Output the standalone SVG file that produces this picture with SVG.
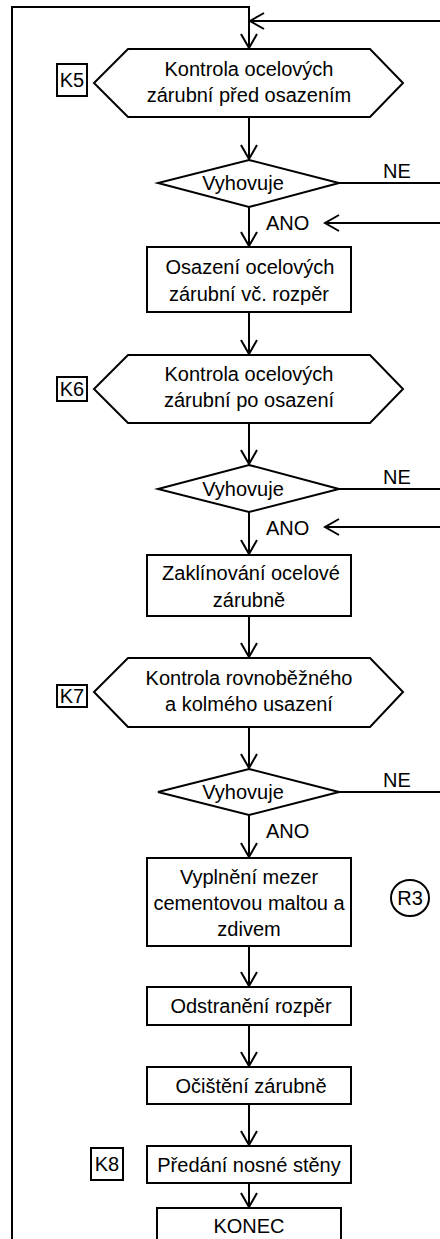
<svg xmlns="http://www.w3.org/2000/svg" width="440" height="1239" viewBox="0 0 440 1239">
<defs>
<style>
.s{fill:#fff;stroke:#000;stroke-width:2}
.c{fill:none;stroke:#000;stroke-width:2}
.t{font-family:"Liberation Sans",Arial,sans-serif;font-size:20px;fill:#000;text-anchor:middle}
.l{font-family:"Liberation Sans",Arial,sans-serif;font-size:20px;fill:#000}
</style>
<marker id="a" markerUnits="userSpaceOnUse" markerWidth="20" markerHeight="20" viewBox="-15 -10 17 20" refX="0" refY="0" orient="auto" overflow="visible">
<path d="M-14,-8 L0,0 L-14,8" fill="none" stroke="#000" stroke-width="2"/>
</marker>
</defs>
<rect width="440" height="1239" fill="#fff"/>
<g id="connectors">
<path class="c" d="M12,1245 L12,7 L249,7 L249,48" marker-end="url(#a)"/>
<path class="c" d="M440,21 L250,21" marker-end="url(#a)"/>
<path class="c" d="M249,117 L249,159" marker-end="url(#a)"/>
<path class="c" d="M339,183 L440,183"/>
<path class="c" d="M440,223 L325,223" marker-end="url(#a)"/>
<path class="c" d="M249,207 L249,246" marker-end="url(#a)"/>
<path class="c" d="M249,312 L249,354" marker-end="url(#a)"/>
<path class="c" d="M249,423 L249,464" marker-end="url(#a)"/>
<path class="c" d="M339,489 L440,489"/>
<path class="c" d="M440,527 L325,527" marker-end="url(#a)"/>
<path class="c" d="M249,512 L249,554" marker-end="url(#a)"/>
<path class="c" d="M249,616 L249,657" marker-end="url(#a)"/>
<path class="c" d="M249,727 L249,768" marker-end="url(#a)"/>
<path class="c" d="M339,792 L440,792"/>
<path class="c" d="M249,815 L249,857" marker-end="url(#a)"/>
<path class="c" d="M249,946 L249,986" marker-end="url(#a)"/>
<path class="c" d="M249,1025 L249,1066" marker-end="url(#a)"/>
<path class="c" d="M249,1104 L249,1145" marker-end="url(#a)"/>
<path class="c" d="M249,1183 L249,1207" marker-end="url(#a)"/>
<text class="l" x="383" y="178">NE</text>
<text class="l" x="266" y="230">ANO</text>
<text class="l" x="383" y="484">NE</text>
<text class="l" x="266" y="535">ANO</text>
<text class="l" x="383" y="787">NE</text>
<text class="l" x="266" y="838">ANO</text>
</g>
<g id="k5">
<rect class="s" x="57" y="64" width="30" height="32"/>
<text class="t" x="72" y="87">K5</text>
</g>
<g id="hex1">
<polygon class="s" points="128,49 370,49 403,83 370,117 128,117 94,83"/>
<text class="t" x="249" y="76">Kontrola ocelových</text>
<text class="t" x="249" y="102">zárubní před osazením</text>
</g>
<g id="dec1">
<polygon class="s" points="249,160 339,183 249,207 158,183"/>
<text class="t" x="243" y="190">Vyhovuje</text>
</g>
<g id="box1">
<rect class="s" x="147" y="247" width="204" height="65"/>
<text class="t" x="250" y="274">Osazení ocelových</text>
<text class="t" x="249" y="301">zárubní vč. rozpěr</text>
</g>
<g id="k6">
<rect class="s" x="57" y="377" width="30" height="24"/>
<text class="t" x="72" y="396">K6</text>
</g>
<g id="hex2">
<polygon class="s" points="128,355 370,355 403,389 370,423 128,423 94,389"/>
<text class="t" x="249" y="381">Kontrola ocelových</text>
<text class="t" x="249" y="407">zárubní po osazení</text>
</g>
<g id="dec2">
<polygon class="s" points="249,465 339,489 249,512 158,489"/>
<text class="t" x="243" y="496">Vyhovuje</text>
</g>
<g id="box2">
<rect class="s" x="147" y="555" width="204" height="61"/>
<text class="t" x="251" y="580">Zaklínování ocelové</text>
<text class="t" x="249" y="607">zárubně</text>
</g>
<g id="k7">
<rect class="s" x="57" y="685" width="30" height="22"/>
<text class="t" x="72" y="703">K7</text>
</g>
<g id="hex3">
<polygon class="s" points="128,658 370,658 403,692 370,727 128,727 94,692"/>
<text class="t" x="249" y="685">Kontrola rovnoběžného</text>
<text class="t" x="249" y="711">a kolmého usazení</text>
</g>
<g id="dec3">
<polygon class="s" points="249,769 339,792 249,815 158,792"/>
<text class="t" x="243" y="799">Vyhovuje</text>
</g>
<g id="box3">
<rect class="s" x="147" y="858" width="204" height="88"/>
<text class="t" x="249" y="884">Vyplnění mezer</text>
<text class="t" x="249" y="910">cementovou maltou a</text>
<text class="t" x="249" y="936">zdivem</text>
</g>
<g id="r3">
<ellipse class="s" cx="410" cy="898" rx="19" ry="18"/>
<text class="t" x="410" y="905">R3</text>
</g>
<g id="box4">
<rect class="s" x="147" y="987" width="204" height="38"/>
<text class="t" x="251" y="1013">Odstranění rozpěr</text>
</g>
<g id="box5">
<rect class="s" x="147" y="1067" width="204" height="37"/>
<text class="t" x="251" y="1093">Očištění zárubně</text>
</g>
<g id="k8">
<rect class="s" x="91" y="1148" width="32" height="32"/>
<text class="t" x="107" y="1171">K8</text>
</g>
<g id="box6">
<rect class="s" x="147" y="1146" width="204" height="37"/>
<text class="t" x="249" y="1172">Předání nosné stěny</text>
</g>
<g id="end">
<rect class="s" x="157" y="1208" width="184" height="40"/>
<text class="t" x="249" y="1233">KONEC</text>
</g>
</svg>
